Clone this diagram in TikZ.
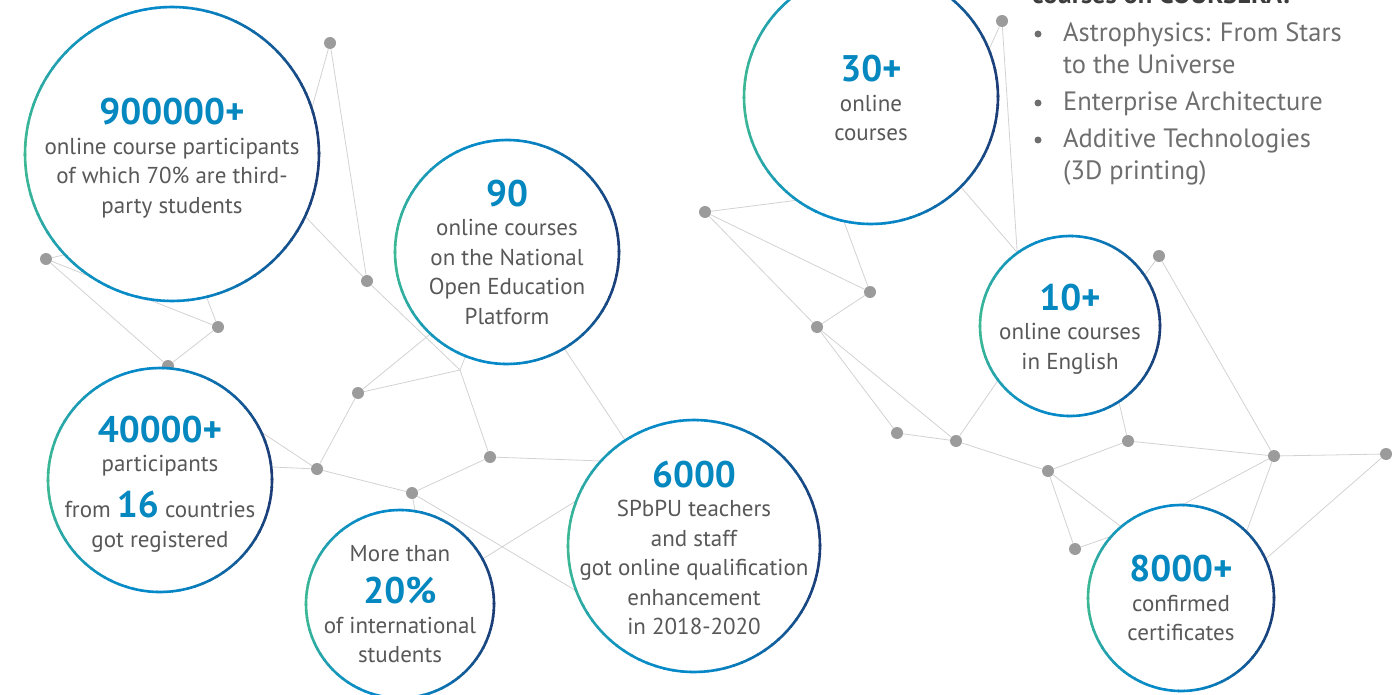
\documentclass[tikz,border=0pt]{standalone}
\usepackage{fontspec}
\setmainfont{PT Sans}
\usetikzlibrary{positioning}
\definecolor{netgray}{HTML}{D2D2D2}
\definecolor{dotgray}{HTML}{9B9B9B}
\definecolor{numblue}{HTML}{0587BF}
\definecolor{txtgray}{HTML}{585858}
\definecolor{listgray}{HTML}{6E6E6E}
\definecolor{headgray}{HTML}{3C3C3C}
\definecolor{ringgreen}{HTML}{3CB895}
\definecolor{ringblue}{HTML}{0689C9}
\definecolor{ringnavy}{HTML}{1C3C76}
\newcommand{\bignum}[1]{{\fontsize{37}{40}\selectfont\bfseries\color{numblue}#1}}

\begin{document}
\begin{tikzpicture}[x=1pt,y=-1pt,
  net/.style={draw=netgray,line width=0.8pt},
  netdot/.style={circle,fill=dotgray,inner sep=0pt,minimum size=12pt},
  statdisc/.style={circle,fill=white,inner sep=0pt},
  stattext/.style={align=center,text=txtgray,font=\fontsize{23}{29.5}\selectfont},
  listtext/.style={text=listgray,font=\fontsize{26.5}{32}\selectfont,anchor=base west,inner sep=0pt},
  listhead/.style={text=headgray,font=\fontsize{26.5}{32}\selectfont\bfseries,anchor=base west,inner sep=0pt},
  listdot/.style={circle,fill=listgray,inner sep=0pt,minimum size=7pt}]
\useasboundingbox (0,0) rectangle (1394,695);
\clip (0,0) rectangle (1394,695);

\foreach \n/\x/\y in {n1/330/43, n2/46/259, n3/218/327, n4/168/366, n5/367/281, n6/358/393,
  n7/317/469, n8/490/457, n9/412/493, n10/705/212, n11/870/292, n12/817/327, n13/1002/21,
  n14/897/433, n15/956/441, n16/1128/441, n17/1048/471, n18/1075/549, n19/1274/456,
  n20/1386/454, n21/1159/256}
  \node[netdot] (\n) at (\x,\y) {};

\coordinate (jX) at (460,370);
\foreach \n/\x/\y in {pPa/305/133, pPb/280/190, pPc/90/249, pPd/200/280,
  pRa/250/466, pRb/240/418, pNa/445/322, pNb/470/345, pNc/554/333,
  pSa/633/452, pSb/630/462, pSc/600/605, pSd/600/486, pIa/460/573, pIb/420/540,
  pCa/830/196, pCb/836/200, pCc/975/80, pCd/948/172,
  pEa/1028/265, pEb/1019/280, pEc/1008/366, pEd/1115/385, pEe/1130/295,
  pZa/1135/528, pZb/1145/545, pZc/1150/522, pZd/1238/555, pZe/1245/577}
  \coordinate (\n) at (\x,\y);

\foreach \a/\b in {n1/pPa, n1/n5, n5/pPb, n5/jX, jX/pNb, jX/n8, n6/pNa, n6/jX, n6/n7,
  n2/pPc, n2/n3, n2/n4, n3/pPd, n3/n4, n7/pRa, n7/pRb, n7/n9, n9/n8, n9/pIb, n9/pSc,
  n8/pSb, pNc/pSa, pIa/pSd,
  n10/pCa, n10/n11, n10/n12, n11/pCb, n11/n12, n12/n14, n12/n15, n14/n15, n13/pCc,
  n13/pEb, pCd/pEa, n15/pEc, n15/n17, n17/n16, n16/pEd, n16/n19, n19/n20, n19/n21,
  n21/pEe, n17/n18, n18/pZa, n17/pZb, n19/pZc, n19/pZd, n20/pZe}
  \draw[net] (\a) -- (\b);

\foreach \n/\x/\y/\r in {cPart/172/154/147, cNat/507/252/112, cReg/160/480/112,
  cIntl/400/604/94, cStaff/694/546/126, cCourses/871/97/127, cEng/1070/326/90,
  cCert/1181/598/93}
{
  \node[statdisc,minimum size=2*\r] (\n) at (\x,\y) {};
  \foreach \a in {0,4,...,356}
  {
    \pgfmathsetmacro\c{cos(\a+2)}
    \ifdim\c pt<0pt
      \pgfmathsetmacro\m{100*abs(\c)^3}\def\rc{ringgreen!\m!ringblue}
    \else
      \pgfmathsetmacro\m{100*abs(\c)^1.5}\def\rc{ringnavy!\m!ringblue}
    \fi
    \draw[color=\rc,line width=2.6pt] (\n.center) ++(\a:\r pt) arc[start angle=\a,end angle=\a+4.6,radius=\r pt];
  }
}

\node[stattext,yshift=-4pt] (tPart) at (cPart) {\bignum{900000+}\\online course participants\\of which 70\% are third-\\party students};
\node[stattext] (tNat) at (cNat) {\bignum{90}\\online courses\\on the National\\Open Education\\Platform};
\node[stattext,yshift=-4pt] (tReg) at (cReg) {\bignum{40000+}\\participants\\[14pt]from \bignum{16} countries\\got registered};
\node[stattext] (tIntl) at (cIntl) {More than\\[13pt]\bignum{20\%}\\of international\\students};
\node[stattext,yshift=-2pt] (tStaff) at (cStaff) {\bignum{6000}\\SPbPU teachers\\and staff\\got online qualification\\enhancement\\in 2018-2020};
\node[stattext,yshift=-1pt] (tCourses) at (cCourses) {\bignum{30+}\\online\\courses};
\node[stattext,yshift=-3pt] (tEng) at (cEng) {\bignum{10+}\\online courses\\in English};
\node[stattext] (tCert) at (cCert) {\bignum{8000+}\\confirmed\\certificates};

\node[listhead] (head) at (1032,4) {courses on COURSERA:};
\node[listdot] (b1) at (1038,34) {};
\node[listtext] (l1a) at (1063,42) {Astrophysics: From Stars};
\node[listtext] (l1b) at (1063,74) {to the Universe};
\node[listdot] (b2) at (1038,103) {};
\node[listtext] (l2) at (1063,111) {Enterprise Architecture};
\node[listdot] (b3) at (1038,140) {};
\node[listtext] (l3a) at (1063,148) {Additive Technologies};
\node[listtext] (l3b) at (1063,180) {(3D printing)};

\end{tikzpicture}
\end{document}
